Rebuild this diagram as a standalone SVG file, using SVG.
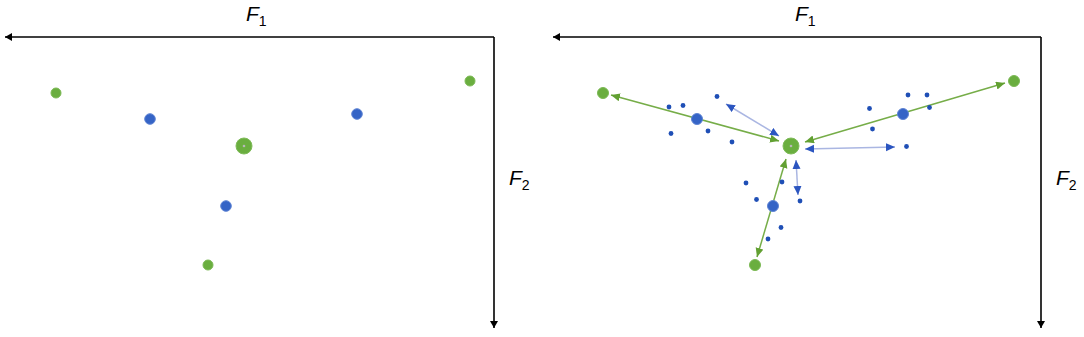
<svg xmlns="http://www.w3.org/2000/svg" width="1084" height="337" viewBox="0 0 1084 337">
<defs>
<style>
.axis{stroke:#000;stroke-width:1.6;fill:none}
.lbl{font-family:"Liberation Sans",Arial,sans-serif;font-style:italic;font-size:21px;fill:#000}
.sub{font-style:normal;font-size:14px}
.g{fill:#6aae3f;stroke:#7cb955;stroke-width:1}
.gb{fill:#6aae3f;stroke:#7ebb58;stroke-width:1}
.b{fill:#3564c6;stroke:#5f84d4;stroke-width:1}
.d{fill:#1f4fb6}
.ga{stroke:#76ad48;stroke-width:1.5;fill:none}
.ba{stroke:#aab6e2;stroke-width:1.5;fill:none}
</style>
<marker id="ax" markerUnits="userSpaceOnUse" markerWidth="10" markerHeight="10" refX="7" refY="4" orient="auto-start-reverse">
<path d="M0,0 L7,4 L0,8 Z" fill="#000"/>
</marker>
<marker id="gh" markerUnits="userSpaceOnUse" markerWidth="12" markerHeight="10" refX="9" refY="4" orient="auto-start-reverse">
<path d="M0,0 L9,4 L0,8 Z" fill="#62a032"/>
</marker>
<marker id="bh" markerUnits="userSpaceOnUse" markerWidth="12" markerHeight="10" refX="9" refY="4" orient="auto-start-reverse">
<path d="M0,0 L9,4 L0,8 Z" fill="#2b55c0"/>
</marker>
</defs>

<g id="left-axes">
<path class="axis" d="M494,37 H5" marker-end="url(#ax)"/>
<path class="axis" d="M494,37 V328" marker-end="url(#ax)"/>
<text class="lbl" x="246" y="21">F<tspan class="sub" dy="5">1</tspan></text>
<text class="lbl" x="509" y="185">F<tspan class="sub" dy="5">2</tspan></text>
</g>
<g id="left-points">
<circle id="lg1" class="g" cx="56" cy="93" r="5"/>
<circle id="lb1" class="b" cx="150" cy="119" r="5.3"/>
<circle id="lgc" class="gb" cx="244" cy="146" r="8"/>
<circle cx="244" cy="146" r="1.3" fill="#b7b7b7"/>
<circle id="lb2" class="b" cx="357" cy="114" r="5.3"/>
<circle id="lg2" class="g" cx="470" cy="81" r="5"/>
<circle id="lb3" class="b" cx="226" cy="206" r="5.3"/>
<circle id="lg3" class="g" cx="208" cy="265" r="5"/>
</g>

<g id="right-axes">
<path class="axis" d="M1041,37 H553" marker-end="url(#ax)"/>
<path class="axis" d="M1041,37 V328" marker-end="url(#ax)"/>
<text class="lbl" x="795" y="21">F<tspan class="sub" dy="5">1</tspan></text>
<text class="lbl" x="1056" y="185">F<tspan class="sub" dy="5">2</tspan></text>
</g>

<g id="connectors">
<line class="ga" x1="611" y1="95" x2="779" y2="141" marker-start="url(#gh)" marker-end="url(#gh)"/>
<line class="ga" x1="805" y1="142" x2="1005" y2="83" marker-start="url(#gh)" marker-end="url(#gh)"/>
<line class="ga" x1="786" y1="159" x2="757" y2="257" marker-start="url(#gh)" marker-end="url(#gh)"/>
<line class="ba" x1="726" y1="104" x2="779" y2="136" marker-start="url(#bh)" marker-end="url(#bh)"/>
<line class="ba" x1="805" y1="149" x2="895" y2="147" marker-start="url(#bh)" marker-end="url(#bh)"/>
<line class="ba" x1="796" y1="160" x2="798" y2="195" marker-start="url(#bh)" marker-end="url(#bh)"/>
</g>

<g id="right-points">
<circle id="rg1" class="g" cx="603" cy="93" r="5.5"/>
<circle id="rb1" class="b" cx="697" cy="119" r="5.5"/>
<circle id="rgc" class="gb" cx="791" cy="146" r="8"/>
<circle cx="791" cy="146" r="1.3" fill="#b7b7b7"/>
<circle id="rb2" class="b" cx="903" cy="114" r="5.5"/>
<circle id="rg2" class="g" cx="1014" cy="81" r="5.5"/>
<circle id="rb3" class="b" cx="773" cy="206" r="5.5"/>
<circle id="rg3" class="g" cx="755" cy="265" r="5.5"/>
</g>
<g id="dots">
<circle class="d" cx="669" cy="107" r="2.4"/>
<circle class="d" cx="683" cy="105.5" r="2.4"/>
<circle class="d" cx="717" cy="96.5" r="2.4"/>
<circle class="d" cx="671" cy="133.5" r="2.4"/>
<circle class="d" cx="708" cy="131" r="2.4"/>
<circle class="d" cx="732" cy="142" r="2.4"/>
<circle class="d" cx="869.5" cy="108.5" r="2.4"/>
<circle class="d" cx="908" cy="95" r="2.4"/>
<circle class="d" cx="927" cy="95" r="2.4"/>
<circle class="d" cx="929.5" cy="107.5" r="2.4"/>
<circle class="d" cx="872.5" cy="129" r="2.4"/>
<circle class="d" cx="906.5" cy="146.5" r="2.4"/>
<circle class="d" cx="746" cy="183" r="2.4"/>
<circle class="d" cx="782" cy="182" r="2.4"/>
<circle class="d" cx="756.5" cy="199.5" r="2.4"/>
<circle class="d" cx="800" cy="201" r="2.4"/>
<circle class="d" cx="781" cy="227.5" r="2.4"/>
<circle class="d" cx="768" cy="239" r="2.4"/>
</g>
</svg>
